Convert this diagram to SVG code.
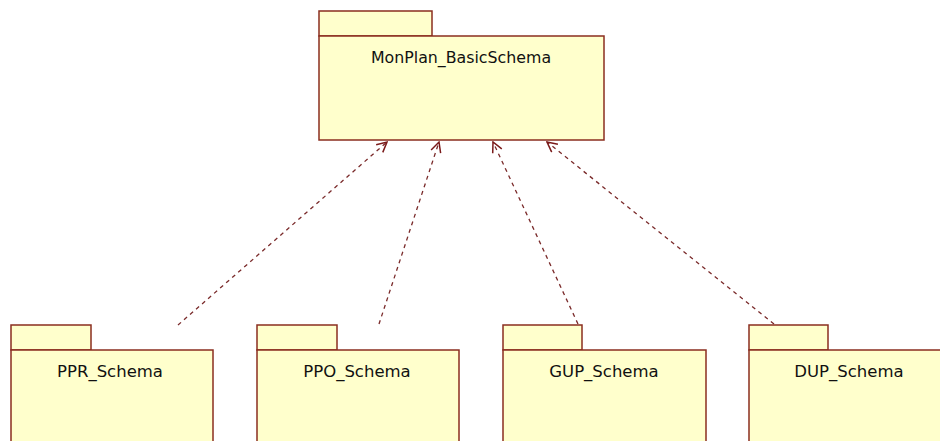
<svg xmlns="http://www.w3.org/2000/svg" width="940" height="441" viewBox="0 0 940 441">
<defs>
<style>
.pk{fill:#FFFFCC;stroke:#8B2E1F;stroke-width:1.5}
.lbl{font-family:"DejaVu Sans","Liberation Sans",sans-serif;font-size:16.5px;fill:#111;text-anchor:middle}
.dep{fill:none;stroke:#7A2A2A;stroke-width:1.3;stroke-dasharray:4,4;marker-end:url(#arr)}
</style>
<marker id="arr" viewBox="0 0 12 12" refX="11" refY="6" markerWidth="12" markerHeight="12" markerUnits="userSpaceOnUse" orient="auto">
<path d="M1,1 L11,6 L1,11" fill="none" stroke="#7A1A1A" stroke-width="1.5"/>
</marker>
</defs>
<rect width="940" height="441" fill="#fff"/>
<g id="connectors">
<line class="dep" x1="178" y1="325" x2="387" y2="142"/>
<line class="dep" x1="379" y1="324" x2="439" y2="142"/>
<line class="dep" x1="578" y1="324" x2="493" y2="142"/>
<line class="dep" x1="774" y1="324" x2="547" y2="142"/>
</g>
<g id="MonPlan_BasicSchema">
<rect class="pk" x="319" y="11" width="113" height="25"/>
<rect class="pk" x="319" y="36" width="285" height="104"/>
<text class="lbl" x="461" y="63" style="font-size:15.8px">MonPlan_BasicSchema</text>
</g>
<g id="PPR_Schema">
<rect class="pk" x="11" y="325" width="80" height="25"/>
<rect class="pk" x="11" y="350" width="202" height="100"/>
<text class="lbl" x="110" y="377">PPR_Schema</text>
</g>
<g id="PPO_Schema">
<rect class="pk" x="257" y="325" width="80" height="25"/>
<rect class="pk" x="257" y="350" width="202" height="100"/>
<text class="lbl" x="357" y="377">PPO_Schema</text>
</g>
<g id="GUP_Schema">
<rect class="pk" x="503" y="325" width="79" height="25"/>
<rect class="pk" x="503" y="350" width="203" height="100"/>
<text class="lbl" x="604" y="377">GUP_Schema</text>
</g>
<g id="DUP_Schema">
<rect class="pk" x="749" y="325" width="79" height="25"/>
<rect class="pk" x="749" y="350" width="202" height="100"/>
<text class="lbl" x="849" y="377">DUP_Schema</text>
</g>
</svg>
